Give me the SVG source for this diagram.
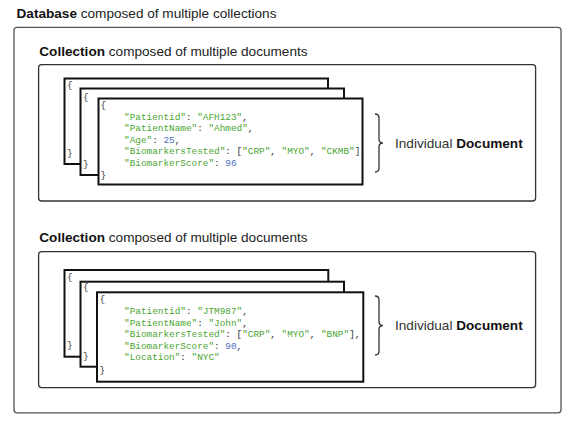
<svg xmlns="http://www.w3.org/2000/svg" width="571" height="425" viewBox="0 0 571 425">
<style>
.title{font-family:"Liberation Sans",Arial,sans-serif;font-size:13.6px;fill:#222}
.b{font-weight:bold;fill:#111}
.outer{fill:#fff;stroke:#555;stroke-width:1.3}
.coll{fill:#fff;stroke:#333;stroke-width:1.3}
.doc{fill:#fff;stroke:#111;stroke-width:2}
.mono{font-family:"Liberation Mono","DejaVu Sans Mono",monospace;font-size:9.4px;fill:#333}
.s{fill:#4aa532}
.n{fill:#4f6fc4}
.brace{fill:none;stroke:#333;stroke-width:1.3}
.lbl{font-family:"Liberation Sans",Arial,sans-serif;font-size:13.6px;fill:#333}
</style>
<rect width="571" height="425" fill="#fff"/>
<g id="database">
<rect class="outer" x="14" y="27.3" width="547" height="385.5" rx="3"/>
<text class="title" x="16.5" y="17.5"><tspan class="b">Database</tspan> composed of multiple collections</text>
</g>
<g id="collection1">
<rect class="coll" x="38.6" y="64.6" width="497" height="136.4" rx="3"/>
<text class="title" x="39.3" y="56"><tspan class="b">Collection</tspan> composed of multiple documents</text>
</g>
<g id="collection2">
<rect class="coll" x="38.6" y="251.6" width="497" height="136" rx="3"/>
<text class="title" x="39.3" y="241.7"><tspan class="b">Collection</tspan> composed of multiple documents</text>
</g>
<g id="doc1-back">
<rect class="doc" x="64.5" y="78.5" width="263.5" height="85.5"/>
<text class="mono" x="67" y="88">{</text>
<text class="mono" x="67" y="156">}</text>
</g>
<g id="doc1-mid">
<rect class="doc" x="80.5" y="88.5" width="263.5" height="86.5"/>
<text class="mono" x="83" y="99.7">{</text>
<text class="mono" x="83" y="167">}</text>
</g>
<g id="doc1-front">
<rect class="doc" x="98.5" y="98.5" width="264" height="86"/>
<text class="mono" x="100.5" y="108">{</text>
<text class="mono" x="124" y="119.6"><tspan class="s">"Patientid"</tspan>: <tspan class="s">"AFH123"</tspan>,</text>
<text class="mono" x="124" y="131.2"><tspan class="s">"PatientName"</tspan>: <tspan class="s">"Ahmed"</tspan>,</text>
<text class="mono" x="124" y="142.8"><tspan class="s">"Age"</tspan>: <tspan class="n">25</tspan>,</text>
<text class="mono" x="124" y="154.4"><tspan class="s">"BiomarkersTested"</tspan>: [<tspan class="s">"CRP"</tspan>, <tspan class="s">"MYO"</tspan>, <tspan class="s">"CKMB"</tspan>],</text>
<text class="mono" x="124" y="166"><tspan class="s">"BiomarkerScore"</tspan>: <tspan class="n">96</tspan></text>
<text class="mono" x="100.5" y="177.6">}</text>
</g>
<g id="label1">
<path class="brace" d="M375,114 q4,0 4,4 v21 q0,4 4,4 q-4,0 -4,4 v21 q0,4 -4,4"/>
<text class="lbl" x="395" y="147.5">Individual <tspan class="b">Document</tspan></text>
</g>
<g id="doc2-back">
<rect class="doc" x="64.5" y="270" width="263.8" height="86.7"/>
<text class="mono" x="67" y="279.7">{</text>
<text class="mono" x="67" y="348">}</text>
</g>
<g id="doc2-mid">
<rect class="doc" x="80.5" y="281.7" width="263.5" height="85"/>
<text class="mono" x="83" y="290.3">{</text>
<text class="mono" x="83" y="359">}</text>
</g>
<g id="doc2-front">
<rect class="doc" x="97" y="292.3" width="266.3" height="89.4"/>
<text class="mono" x="99.5" y="301.5">{</text>
<text class="mono" x="124" y="314.3"><tspan class="s">"Patientid"</tspan>: <tspan class="s">"JTM987"</tspan>,</text>
<text class="mono" x="124" y="325.5"><tspan class="s">"PatientName"</tspan>: <tspan class="s">"John"</tspan>,</text>
<text class="mono" x="124" y="337.3"><tspan class="s">"BiomarkersTested"</tspan>: [<tspan class="s">"CRP"</tspan>, <tspan class="s">"MYO"</tspan>, <tspan class="s">"BNP"</tspan>],</text>
<text class="mono" x="124" y="348.6"><tspan class="s">"BiomarkerScore"</tspan>: <tspan class="n">90</tspan>,</text>
<text class="mono" x="124" y="360.2"><tspan class="s">"Location"</tspan>: <tspan class="s">"NYC"</tspan></text>
<text class="mono" x="99.5" y="373">}</text>
</g>
<g id="label2">
<path class="brace" d="M375,296 q4,0 4,4 v21.5 q0,4 4,4 q-4,0 -4,4 v21.5 q0,4 -4,4"/>
<text class="lbl" x="395" y="329.5">Individual <tspan class="b">Document</tspan></text>
</g>
<g id="connectors"/>
</svg>
